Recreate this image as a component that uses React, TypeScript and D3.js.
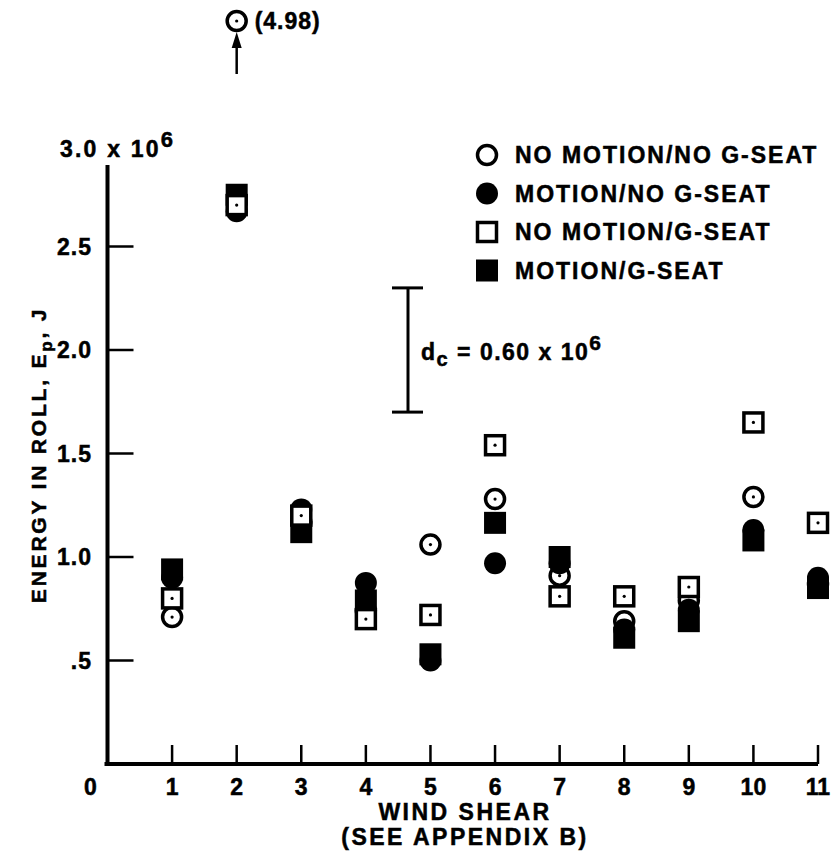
import React from "react";
import * as d3 from "d3";

// wind shear cases and energy in roll (x 10^6 J)
const windShear = [1, 2, 3, 4, 5, 6, 7, 8, 9, 10, 11];
const noMotionNoGseat = [0.71, 4.98, 1.17, 0.74, 1.06, 1.28, 0.91, 0.69, 0.79, 1.29, 0.87];
const motionNoGseat = [0.9, 2.67, 1.23, 0.875, 0.5, 0.97, 0.97, 0.65, 0.745, 1.13, 0.9];
const noMotionGseat = [0.8, 2.7, 1.2, 0.7, 0.72, 1.54, 0.81, 0.81, 0.855, 1.65, 1.165];
const motionGseat = [0.94, 2.75, 1.12, 0.79, 0.53, 1.165, 1.0, 0.61, 0.69, 1.08, 0.85];

const xTicks = [1, 2, 3, 4, 5, 6, 7, 8, 9, 10, 11];
const yTicks = [0.5, 1.0, 1.5, 2.0, 2.5];
const yTickLabels = [".5", "1.0", "1.5", "2.0", "2.5"];
const legendLabels = [
  "NO MOTION/NO G-SEAT",
  "MOTION/NO G-SEAT",
  "NO MOTION/G-SEAT",
  "MOTION/G-SEAT",
];
const dcRange = [1.7, 2.3];

const font = "'Liberation Sans', Arial, Helvetica, sans-serif";

export default function App() {
  const width = 833;
  const height = 855;

  const xScale = d3.scaleLinear().domain([0, 11]).range([107.5, 818]);
  const yScale = d3.scaleLinear().domain([0, 3]).range([764, 143]);

  // points above the axis top are drawn in the break above the chart
  const yPos = (v: number) => (v > 3 ? yScale(3) - 122 : yScale(v));

  // scanned lettering is a bit heavier than the plain bold face
  const textStyle = {
    fontFamily: font,
    fontWeight: "bold" as const,
    fontSize: 23,
    letterSpacing: 2,
    stroke: "black",
    strokeWidth: 0.5,
  };

  const openCircle = (cx: number, cy: number, key: string, dot = true) => (
    <g key={key}>
      <circle cx={cx} cy={cy} r={9.5} fill="none" stroke="black" strokeWidth={3.5} />
      {dot && <circle cx={cx} cy={cy} r={1.6} fill="black" />}
    </g>
  );
  const filledCircle = (cx: number, cy: number, key: string) => (
    <circle key={key} cx={cx} cy={cy} r={11} fill="black" />
  );
  const openSquare = (cx: number, cy: number, key: string, dot = true) => (
    <g key={key}>
      <rect x={cx - 9.5} y={cy - 9.5} width={19} height={19} fill="white" stroke="black" strokeWidth={3.5} />
      {dot && <circle cx={cx} cy={cy} r={1.6} fill="black" />}
    </g>
  );
  const filledSquare = (cx: number, cy: number, key: string) => (
    <rect key={key} x={cx - 11} y={cy - 11} width={22} height={22} fill="black" />
  );

  const x0 = xScale(0);
  const yBase = yScale(0);
  const offX = xScale(2);
  const offY = yPos(noMotionNoGseat[1]);

  return (
    <svg width={width} height={height} style={{ display: "block", position: "absolute", left: 0, top: 0 }}>
      <rect width={width} height={height} fill="white" />

      {/* axes */}
      <line x1={x0} x2={x0} y1={165} y2={yBase} stroke="black" strokeWidth={4} />
      <line x1={x0 - 3} x2={xScale(11)} y1={yBase} y2={yBase} stroke="black" strokeWidth={4} />

      {yTicks.map((t, i) => (
        <g key={"yt" + t}>
          <line x1={x0} x2={x0 + 26} y1={yScale(t)} y2={yScale(t)} stroke="black" strokeWidth={2.5} />
          <text x={92} y={yScale(t) + 8} textAnchor="end" style={{ ...textStyle, letterSpacing: 1 }}>
            {yTickLabels[i]}
          </text>
        </g>
      ))}
      <text x={60} y={157} style={{ ...textStyle, letterSpacing: 2.2 }}>
        3.0 x 10<tspan dy={-10} fontSize={22}>6</tspan>
      </text>

      {xTicks.map((t) => (
        <g key={"xt" + t}>
          <line x1={xScale(t)} x2={xScale(t)} y1={yBase} y2={yBase - 19} stroke="black" strokeWidth={2.5} />
          <text x={xScale(t)} y={795} textAnchor="middle" style={{ ...textStyle, letterSpacing: 0 }}>
            {t}
          </text>
        </g>
      ))}
      <text x={x0 - 17} y={795} textAnchor="middle" style={{ ...textStyle, letterSpacing: 0 }}>
        0
      </text>

      <text x={465} y={820} textAnchor="middle" style={{ ...textStyle, letterSpacing: 2.5 }}>
        WIND SHEAR
      </text>
      <text x={465} y={845} textAnchor="middle" style={{ ...textStyle, letterSpacing: 2.5 }}>
        (SEE APPENDIX B)
      </text>

      <text
        transform={`translate(46, 455) rotate(-90)`}
        textAnchor="middle"
        style={{ ...textStyle, fontSize: 21, letterSpacing: 2.8 }}
      >
        ENERGY IN ROLL, E<tspan dy={6} fontSize={17}>p</tspan>
        <tspan dy={-6}>, J</tspan>
      </text>

      {/* d_c bar */}
      <line x1={408} x2={408} y1={yScale(dcRange[1])} y2={yScale(dcRange[0])} stroke="black" strokeWidth={3} />
      <line x1={392} x2={423} y1={yScale(dcRange[1])} y2={yScale(dcRange[1])} stroke="black" strokeWidth={3} />
      <line x1={392} x2={423} y1={yScale(dcRange[0])} y2={yScale(dcRange[0])} stroke="black" strokeWidth={3} />
      <text x={421} y={360} style={{ ...textStyle, letterSpacing: 1.5 }}>
        d<tspan dy={6} fontSize={20}>c</tspan>
        <tspan dy={-6}> = 0.60 x 10</tspan>
        <tspan dy={-10} fontSize={21}>6</tspan>
      </text>

      {/* data */}
      {windShear.map((w, i) => filledCircle(xScale(w), yPos(motionNoGseat[i]), "fc" + i))}
      {windShear.map((w, i) => filledSquare(xScale(w), yPos(motionGseat[i]), "fs" + i))}
      {windShear.map((w, i) => openCircle(xScale(w), yPos(noMotionNoGseat[i]), "oc" + i))}
      {windShear.map((w, i) => openSquare(xScale(w), yPos(noMotionGseat[i]), "os" + i))}

      {/* off-scale arrow and value */}
      <line x1={offX} x2={offX} y1={offY + 53} y2={offY + 22} stroke="black" strokeWidth={2.5} />
      <path d={`M${offX},${offY + 11} L${offX - 5},${offY + 27} L${offX + 5},${offY + 27} Z`} fill="black" />
      <text x={offX + 18} y={offY + 8} style={{ ...textStyle, letterSpacing: 1 }}>
        (4.98)
      </text>

      {/* legend */}
      {legendLabels.map((label, i) => {
        const ly = 155 + i * 38.5;
        const lx = 487;
        let sym;
        if (i === 0) sym = openCircle(lx, ly, "l0", false);
        else if (i === 1) sym = filledCircle(lx, ly, "l1");
        else if (i === 2) sym = openSquare(lx, ly, "l2", false);
        else sym = filledSquare(lx, ly, "l3");
        return (
          <g key={"lg" + i}>
            {sym}
            <text x={515} y={ly + 8} style={textStyle}>
              {label}
            </text>
          </g>
        );
      })}
    </svg>
  );
}
